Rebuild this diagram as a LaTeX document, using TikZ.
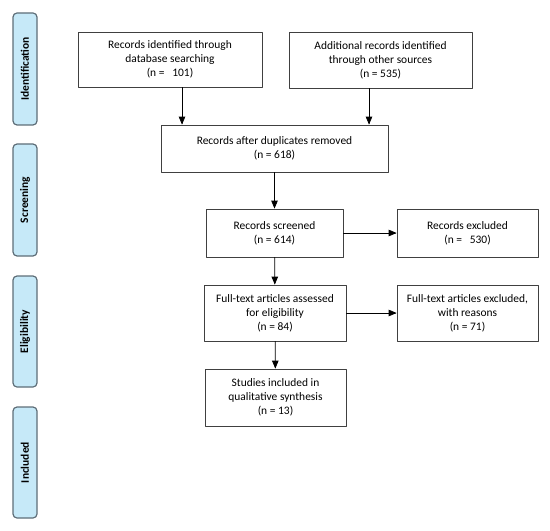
\documentclass[tikz,border=0pt]{standalone}
\usepackage{fontspec}
\setmainfont{Carlito}
\usetikzlibrary{arrows}
\definecolor{barfill}{HTML}{C6E9F8}
\definecolor{barline}{HTML}{5E6E78}
\definecolor{boxline}{HTML}{404040}
\begin{document}
\begin{tikzpicture}[line cap=round,line join=round,>=triangle 45,x=1bp,y=-1bp,
  phase/.style={draw=barline,fill=barfill,line width=1.2bp,rounded corners=4bp,minimum width=24bp,
    inner sep=0pt,font=\fontsize{11.5}{13}\selectfont\bfseries},
  recbox/.style={draw=boxline,line width=0.9bp,align=center,inner sep=0pt,
    font=\fontsize{11.5}{14}\selectfont},
  flow/.style={->,line width=0.8bp,draw=black}]
\useasboundingbox (0,0) rectangle (550,531);
% phase bars
\node[phase,minimum height=112bp] (ident) at (25,69) {\rotatebox{90}{Identification}};
\node[phase,minimum height=112bp] (screen) at (25,200) {\rotatebox{90}{Screening}};
\node[phase,minimum height=111bp] (elig) at (25,331.5) {\rotatebox{90}{Eligibility}};
\node[phase,minimum height=111bp] (incl) at (25,462.5) {\rotatebox{90}{Included}};
% boxes
\node[recbox,minimum width=184bp,minimum height=55bp] (dbrec) at (170,59.5) {Records identified through\\database searching\\(n =\ \ \ 101)};
\node[recbox,minimum width=183bp,minimum height=56bp] (othrec) at (380.5,60) {Additional records identified\\through other sources\\(n = 535)};
\node[recbox,minimum width=227bp,minimum height=47bp] (dupl) at (274.5,148.5) {Records after duplicates removed\\(n = 618)};
\node[recbox,minimum width=137bp,minimum height=48bp] (scrn) at (274.5,233) {Records screened\\(n = 614)};
\node[recbox,minimum width=141bp,minimum height=48bp] (excl) at (467.5,233) {Records excluded\\(n =\ \ \ 530)};
\node[recbox,minimum width=142bp,minimum height=56bp] (full) at (275,313) {Full-text articles assessed\\for eligibility\\(n = 84)};
\node[recbox,minimum width=141bp,minimum height=56bp] (fexcl) at (467.5,313) {Full-text articles excluded,\\with reasons\\(n = 71)};
\node[recbox,minimum width=141bp,minimum height=57bp] (stud) at (275.5,397.5) {Studies included in\\qualitative synthesis\\(n = 13)};
% arrows
\draw[flow] ([xshift=12bp]dbrec.south) -- ([xshift=12bp]dbrec.south |- dupl.north);
\draw[flow] ([xshift=-11.5bp]othrec.south) -- ([xshift=-11.5bp]othrec.south |- dupl.north);
\draw[flow] (dupl) -- (scrn);
\draw[flow] (scrn) -- (excl);
\draw[flow] (scrn) -- (full);
\draw[flow] (full) -- (fexcl);
\draw[flow] (full) -- (stud);
\end{tikzpicture}
\end{document}
